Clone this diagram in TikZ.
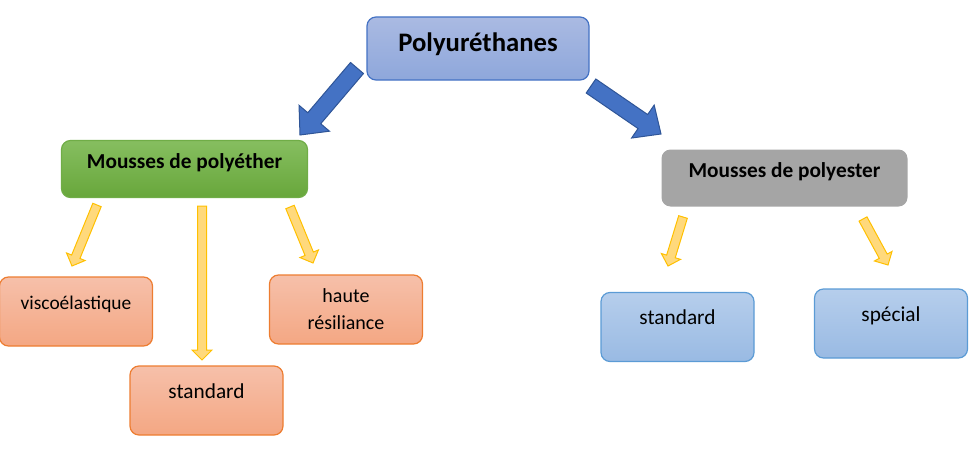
\documentclass[tikz,border=0pt]{standalone}
\usepackage{fontspec}
\setmainfont{Carlito}
\usetikzlibrary{calc}
\definecolor{polytop}{HTML}{AABAE2}
\definecolor{polybot}{HTML}{8EA7DB}
\definecolor{polyline}{HTML}{4472C4}
\definecolor{bigarrow}{HTML}{4472C4}
\definecolor{bigline}{HTML}{2F5597}
\definecolor{greentop}{HTML}{86BE60}
\definecolor{greenbot}{HTML}{68A73B}
\definecolor{greenline}{HTML}{70AD47}
\definecolor{greyfill}{HTML}{A5A5A5}
\definecolor{orangetop}{HTML}{F6C0AA}
\definecolor{orangebot}{HTML}{F4A783}
\definecolor{orangeline}{HTML}{ED7D31}
\definecolor{bluetop}{HTML}{B6CEEC}
\definecolor{bluebot}{HTML}{99BAE3}
\definecolor{blueline}{HTML}{5B9BD5}
\definecolor{yellowfill}{HTML}{FFD97C}
\definecolor{yellowline}{HTML}{FFC000}
% block arrow: [style]{tail}{tip}{half body}{half head}{head length}
\newcommand{\blockarrow}[6][]{%
  \coordinate (ba) at ($(#3)!#6!(#2)$);
  \draw[#1] ($(#2)!#4!90:(#3)$) -- ($(ba)!#4!90:(#3)$) -- ($(ba)!#5!90:(#3)$) -- (#3)
    -- ($(ba)!#5!-90:(#3)$) -- ($(ba)!#4!-90:(#3)$) -- ($(#2)!#4!-90:(#3)$) -- cycle;
}
\begin{document}
\begin{tikzpicture}[x=1pt,y=-1pt,line join=miter,
  box/.style={rounded corners=9pt,line width=1.2pt,align=center,inner sep=0pt},
  lift/.style={text height=15pt,text depth=20pt},
  title/.style={box,draw=polyline,top color=polytop,bottom color=polybot,
    minimum width=222pt,minimum height=63pt,font=\fontsize{26.7}{32}\selectfont\bfseries,
    text height=19pt,text depth=12pt},
  cat/.style={box,minimum width=246pt,minimum height=57pt,font=\fontsize{21.3}{26}\selectfont\bfseries,
    text height=15pt,text depth=16pt},
  foam/.style={box,draw=orangeline,top color=orangetop,bottom color=orangebot,
    minimum width=153pt,minimum height=69pt},
  leaf/.style={box,draw=blueline,top color=bluetop,bottom color=bluebot,
    minimum width=153pt,minimum height=69pt},
  big/.style={fill=bigarrow,draw=bigline,line width=1pt},
  thin/.style={fill=yellowfill,draw=yellowline,line width=1pt}]
\useasboundingbox (0,0) rectangle (976,452);

\node[title] (pu) at (478,48.5) {Polyuréthanes};
\node[cat,draw=greenline,top color=greentop,bottom color=greenbot] (pe) at (184.5,169) {Mousses de polyéther};
\node[cat,fill=greyfill] (ps) at (784.5,178) {Mousses de polyester};

\node[foam,lift,font=\fontsize{19.4}{27}\selectfont] (visco) at (76,311.5) {viscoélastique};
\node[foam,lift,font=\fontsize{21.3}{27}\selectfont] (stdl) at (206.5,400.5) {standard};
\node[foam,font=\fontsize{20}{27}\selectfont] (hr) at (346,309.5) {haute\\résiliance};
\node[leaf,lift,font=\fontsize{21.3}{27}\selectfont] (stdr) at (677.5,327) {standard};
\node[leaf,lift,font=\fontsize{21.3}{27}\selectfont] (spec) at (891,323.5) {spécial};

% tails and tips of the arrows
\coordinate (a1) at (357,68);  \coordinate (b1) at (300,135);
\coordinate (a2) at (591,86);  \coordinate (b2) at (661,134);
\coordinate (a3) at (97,205);  \coordinate (b3) at (72,266);
\coordinate (a4) at (202,206); \coordinate (b4) at (202,360);
\coordinate (a5) at (290,207); \coordinate (b5) at (313,263);
\coordinate (a6) at (683,217); \coordinate (b6) at (668,266);
\coordinate (a7) at (863,219); \coordinate (b7) at (888,265);

\blockarrow[big]{a1}{b1}{8.5pt}{20pt}{22pt}
\blockarrow[big]{a2}{b2}{8.5pt}{20pt}{22pt}
\foreach \i in {3,...,7}
{
\blockarrow[thin]{a\i}{b\i}{4.5pt}{10pt}{10pt}
}
\end{tikzpicture}
\end{document}
